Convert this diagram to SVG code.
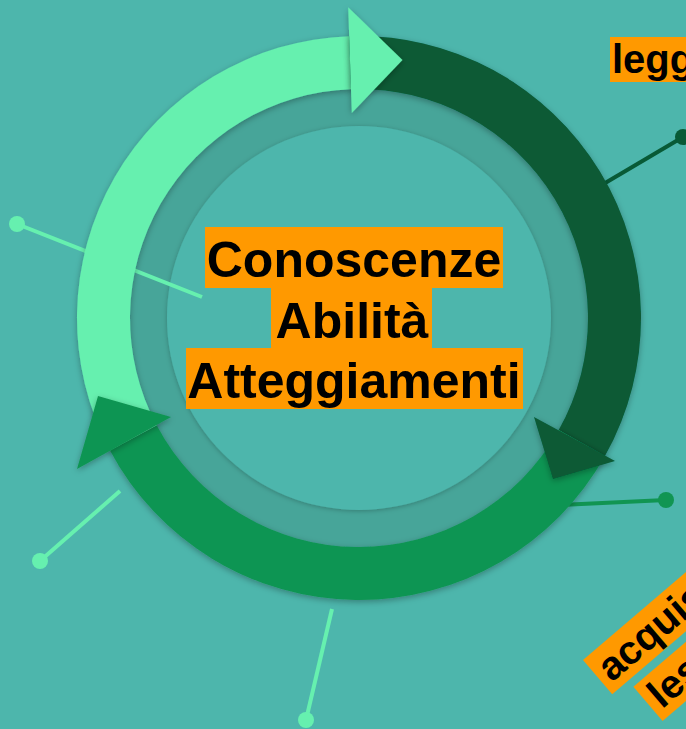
<svg xmlns="http://www.w3.org/2000/svg" width="686" height="729" viewBox="0 0 686 729">
  <defs>
    <filter id="sh" x="-20%" y="-20%" width="140%" height="140%">
      <feDropShadow dx="0" dy="2" stdDeviation="3" flood-color="#000" flood-opacity="0.3"/>
    </filter>
    <filter id="sh2" x="-20%" y="-20%" width="140%" height="140%">
      <feDropShadow dx="0" dy="1" stdDeviation="2.5" flood-color="#000" flood-opacity="0.25"/>
    </filter>
    <style>
      .lbl { font-family: "Liberation Sans", Arial, sans-serif; font-weight: bold; fill: #000; }
      .box { fill: #FF9900; }
      .ln { stroke-width: 4; fill: none; }
    </style>
  </defs>
  <rect width="686" height="729" fill="#4DB6AC"/>

  <g id="ring">
    <circle cx="359" cy="318" r="229" fill="#46A599" filter="url(#sh2)"/>
    <circle cx="359" cy="318" r="192" fill="#4DB6AC" filter="url(#sh2)"/>
  </g>

  <g id="connectors">
    <line class="ln" x1="17" y1="224" x2="202" y2="297" stroke="#66F0AF"/>
    <circle cx="17" cy="224" r="8" fill="#66F0AF"/>
    <line class="ln" x1="120" y1="491" x2="40" y2="561" stroke="#66F0AF"/>
    <circle cx="40" cy="561" r="8" fill="#66F0AF"/>
    <line class="ln" x1="332" y1="609" x2="306" y2="720" stroke="#66F0AF"/>
    <circle cx="306" cy="720" r="8" fill="#66F0AF"/>
    <line class="ln" x1="560" y1="505" x2="666" y2="500" stroke="#119552"/>
    <circle cx="666" cy="500" r="8" fill="#119552"/>
    <line class="ln" x1="595" y1="189" x2="683" y2="137" stroke="#085A36"/>
    <circle cx="683" cy="137" r="8" fill="#085A36"/>
  </g>

  <g id="arrow-light" filter="url(#sh)">
    <path d="M 110.01 450.39 A 282 282 0 0 1 349.16 36.17 L 351.01 89.14 A 229 229 0 0 0 156.80 425.51 Z" fill="#66F0AF"/>
  </g>
  <g id="arrow-dark" filter="url(#sh)">
    <path d="M 349.16 36.17 A 282 282 0 0 1 604.92 456.01 L 558.70 430.07 A 229 229 0 0 0 351.01 89.14 Z" fill="#085A36"/>
  </g>
  <g id="arrow-medium" filter="url(#sh)">
    <path d="M 604.92 456.01 A 282 282 0 0 1 110.01 450.39 L 156.80 425.51 A 229 229 0 0 0 558.70 430.07 Z" fill="#119552"/>
  </g>
  <g id="heads" filter="url(#sh)">
    <polygon points="348.2,7.2 351.8,113.1 402.5,60" fill="#66F0AF"/>
    <polygon points="534,417 615,461 553,479" fill="#085A36"/>
    <polygon points="171,417 77,469 98,396" fill="#119552"/>
  </g>

  <g id="center-text">
    <rect class="box" x="205" y="227" width="298" height="61"/>
    <rect class="box" x="271" y="287" width="161" height="62"/>
    <rect class="box" x="186" y="348" width="337" height="61"/>
    <text class="lbl" x="354" y="277" font-size="50" text-anchor="middle">Conoscenze</text>
    <text class="lbl" x="352" y="338" font-size="50" text-anchor="middle">Abilità</text>
    <text class="lbl" x="354" y="398" font-size="50" text-anchor="middle">Atteggiamenti</text>
  </g>

  <g id="label-top-right">
    <rect class="box" x="610" y="37" width="90" height="45"/>
    <text class="lbl" x="612" y="73" font-size="40">legg</text>
  </g>

  <g id="label-bottom-right" transform="translate(583,660) rotate(-40.5)">
    <rect class="box" x="0" y="0" width="220" height="45"/>
    <text class="lbl" x="7" y="36" font-size="40">acquisi</text>
    <rect class="box" x="21" y="53" width="220" height="45"/>
    <text class="lbl" x="28" y="89" font-size="40">les</text>
  </g>
</svg>
